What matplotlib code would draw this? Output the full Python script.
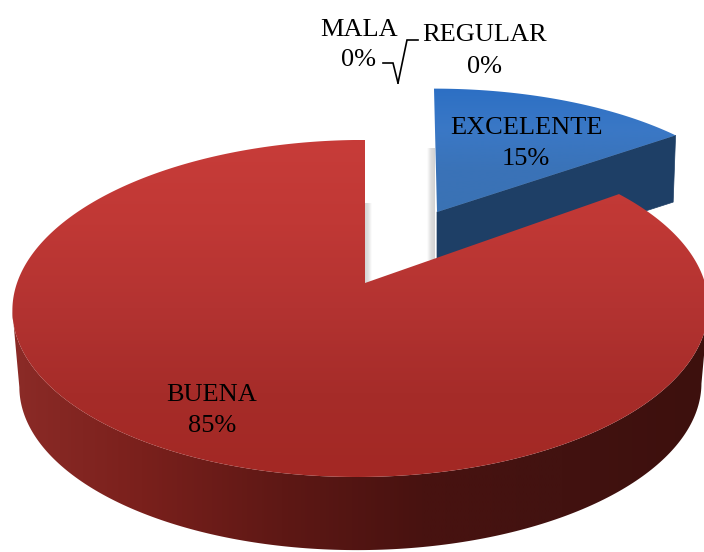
import numpy as np
import matplotlib
matplotlib.use('Agg')
import matplotlib.pyplot as plt
from matplotlib.colors import LinearSegmentedColormap
from matplotlib.patches import Polygon

categories = ['EXCELENTE', 'BUENA', 'REGULAR', 'MALA']
values = [15, 85, 0, 0]

plt.rcParams['font.family'] = ['Liberation Serif', 'DejaVu Serif']

K = 0.151  # perspective of the pie plane


def rim(theta, cx, cy, rx, ry, shear=0, drop=0, scale=1):
    # theta in degrees, clockwise from 12 o'clock
    t = np.radians(theta)
    u, v = np.sin(t), np.cos(t)
    d = 1 + K * v
    return np.c_[cx + shear * v + scale * rx * u / d, cy + drop - scale * ry * v / d]


def fill_gradient(ax, verts, cmap, extent, vertical, zorder):
    patch = Polygon(verts, closed=True, fc='none', ec='none', transform=ax.transData)
    ax.add_patch(patch)
    grad = np.linspace(0, 1, 256)
    grad = grad.reshape(-1, 1) if vertical else grad.reshape(1, -1)
    im = ax.imshow(grad, cmap=cmap, extent=extent, aspect='auto',
                   zorder=zorder, interpolation='bilinear')
    im.set_clip_path(patch)


def soft_shadow(ax, x0, x1, y0, y1):
    cm = LinearSegmentedColormap.from_list('sh', ['#ffffff', '#dedede', '#d2d2d2'])
    ax.imshow(np.linspace(0, 1, 32).reshape(1, -1), cmap=cm, extent=(x0, x1, y1, y0),
              aspect='auto', zorder=1, interpolation='bilinear')


fig = plt.figure(figsize=(7.04, 5.52), dpi=100)
ax = fig.add_axes([0, 0, 1, 1])

# faint shadows next to the cut faces
soft_shadow(ax, 427, 435, 148, 260)
soft_shadow(ax, 372, 364, 203, 283)

shares = np.array(values) / sum(values) * 360
blue_stop = shares[0]

# blue slice
blue = dict(cx=436, cy=212, rx=324, ry=142, shear=-2)
blue_apex = (437, 212)
blue_depth = 66
angles = np.linspace(0, blue_stop, 121)
blue_edge = rim(angles, **blue)
blue_low = rim(angles, drop=blue_depth, scale=0.99, **blue)
ax.add_patch(Polygon([blue_apex, blue_edge[-1], blue_low[-1], (blue_apex[0], blue_apex[1] + blue_depth)],
                     fc='#1e3f66', ec='#1e3f66', lw=0.5, zorder=3))
blue_top = LinearSegmentedColormap.from_list('bt', ['#2c6fc4', '#3a78c6', '#3a73b8', '#3a72b4'])
fill_gradient(ax, np.vstack([[blue_apex], blue_edge]), blue_top, (0, 704, 212, 87), True, 4)

# red slice, the wall only runs between the two side extremes
red = dict(cx=361, cy=283, rx=344, ry=164.7, shear=4)
red_apex = (365, 283)
red_depth = 77
angles = np.linspace(blue_stop, 360, 361)
red_edge = rim(angles, **red)
red_low = rim(angles, drop=red_depth, scale=0.98, **red)
i0, i1 = red_edge[:, 0].argmax(), red_edge[:, 0].argmin()
red_side = LinearSegmentedColormap.from_list('rs', ['#8d2c28', '#7a201c', '#5e1815', '#481210', '#421210', '#3d100d'])
fill_gradient(ax, np.vstack([red_edge[i0:i1 + 1], red_low[i0:i1 + 1][::-1]]), red_side,
              (0, 704, 552, 0), False, 5)
red_top = LinearSegmentedColormap.from_list('rt', ['#c73c39', '#c03835', '#b33331', '#a62c29', '#a32824'])
fill_gradient(ax, np.vstack([[red_apex], red_edge]), red_top, (0, 704, 477, 140), True, 6)

# labels
label_xy = {'EXCELENTE': (526, 128), 'BUENA': (212, 395), 'REGULAR': (485, 35), 'MALA': (359, 30)}
pct_gap = {'EXCELENTE': 31, 'BUENA': 31, 'REGULAR': 32, 'MALA': 30}
for name, val in zip(categories, values):
    x, y = label_xy[name]
    ax.text(x, y, name, ha='center', va='center', fontsize=19, color='black', zorder=9)
    ax.text(x, y + pct_gap[name], '{}%'.format(val), ha='center', va='center',
            fontsize=19, color='black', zorder=9)

# leader lines of the two empty slices
ax.plot([383, 393, 398], [63, 63, 83], color='black', lw=1.2, zorder=9, solid_joinstyle='miter')
ax.plot([398, 407, 418], [83, 40, 40], color='black', lw=1.2, zorder=9, solid_joinstyle='miter')

ax.set_xlim(0, 704)
ax.set_ylim(552, 0)
ax.axis('off')
fig.savefig('out.png', dpi=100)
